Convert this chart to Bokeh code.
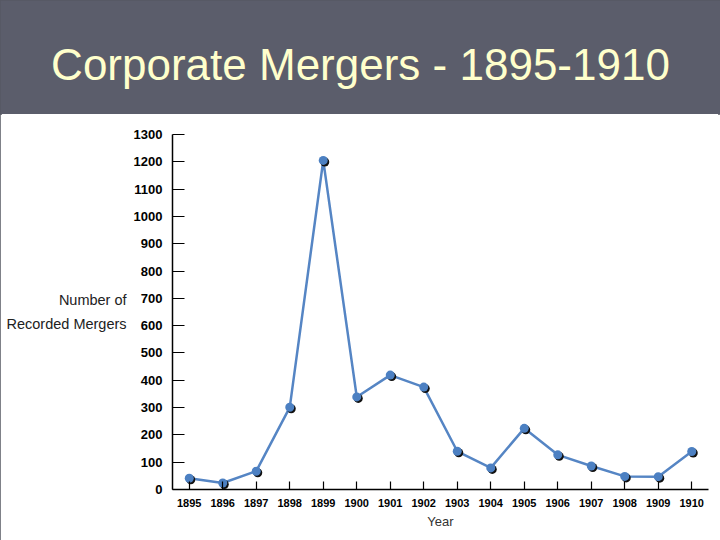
from bokeh.plotting import figure
from bokeh.layouts import column
from bokeh.models import Range1d, FixedTicker, Label, InlineStyleSheet
from bokeh.embed import file_html
from bokeh.resources import INLINE

# ---- data ----
years = [1895, 1896, 1897, 1898, 1899, 1900, 1901, 1902,
         1903, 1904, 1905, 1906, 1907, 1908, 1909, 1910]
mergers = [41, 24, 67, 301, 1205, 339, 419, 375,
           140, 79, 224, 127, 86, 48, 47, 139]
y_ticks = [0, 100, 200, 300, 400, 500, 600, 700, 800, 900, 1000, 1100, 1200, 1300]
title_text = "Corporate Mergers - 1895-1910"
x_axis_title = "Year"
y_axis_title = "Number of\nRecorded Mergers"

FONT = "Liberation Sans"
W = 720
HEAD_H = 114
MAIN_H = 426
HEADER_BG = "#5b5d6b"
BORDER_L, BORDER_R = 172, 12

# ---- header band with the title ----
head = figure(width=W, height=HEAD_H, output_backend="svg", toolbar_location=None,
              x_range=Range1d(0, 1), y_range=Range1d(0, 1),
              x_axis_location=None, y_axis_location=None,
              min_border=0)
head.frame_align = False
head.background_fill_color = HEADER_BG
head.border_fill_color = HEADER_BG
head.outline_line_color = None
head.grid.visible = False
head.add_layout(Label(x=360, y=50, x_units="screen", y_units="screen",
                      text=title_text, text_align="center", text_baseline="alphabetic",
                      text_font=FONT, text_font_size="44px", text_color="#ffffcc"))

# ---- main chart ----
p = figure(width=W, height=MAIN_H, output_backend="svg", toolbar_location=None,
           x_range=Range1d(1894.5, 1910.5), y_range=Range1d(0, 1300),
           min_border_left=BORDER_L, min_border_right=BORDER_R, min_border_top=20,
           min_border_bottom=51)
p.frame_align = False
p.background_fill_color = "white"
p.border_fill_color = "white"
p.outline_line_color = None
p.grid.visible = False

# shadow ranges (shift markers ~1.5px right/down)
p.extra_x_ranges = {"sh": Range1d(1894.5 - 0.045, 1910.5 - 0.045)}
p.extra_y_ranges = {"sh": Range1d(0 + 5.5, 1300 + 5.5)}

xa = p.xaxis[0]
xa.ticker = FixedTicker(ticks=years)
xa.major_tick_in = 8
xa.major_tick_out = 0
xa.minor_tick_line_color = None
xa.axis_line_color = "black"
xa.axis_line_width = 1.5
xa.major_tick_line_color = "black"
xa.major_tick_line_width = 1.2
xa.major_label_text_font = FONT
xa.major_label_text_font_style = "bold"
xa.major_label_text_font_size = "11px"
xa.major_label_text_color = "black"
xa.major_label_standoff = 9
xa.axis_label = x_axis_title
xa.axis_label_text_font = FONT
xa.axis_label_text_font_style = "normal"
xa.axis_label_text_font_size = "13px"
xa.axis_label_text_color = "#333333"
xa.axis_label_standoff = 4

ya = p.yaxis[0]
ya.ticker = FixedTicker(ticks=y_ticks)
ya.major_tick_in = 12
ya.major_tick_out = 0
ya.minor_tick_line_color = None
ya.axis_line_color = "black"
ya.axis_line_width = 1.5
ya.major_tick_line_color = "black"
ya.major_tick_line_width = 1.2
ya.major_label_text_font = FONT
ya.major_label_text_font_style = "bold"
ya.major_label_text_font_size = "13px"
ya.major_label_text_color = "black"
ya.major_label_standoff = 10
ya.axis_label = y_axis_title
ya.axis_label_orientation = "horizontal"
ya.axis_label_text_font = FONT
ya.axis_label_text_font_style = "normal"
ya.axis_label_text_font_size = "14.5px"
ya.axis_label_text_color = "#222222"
ya.axis_label_standoff = 4
ya.axis_label_text_line_height = 1.5

p.line(years, mergers, line_color="#5585c4", line_width=2.5)
p.scatter(years, mergers, size=9, fill_color="#111111", line_color=None,
          x_range_name="sh", y_range_name="sh")
p.scatter(years, mergers, size=9, fill_color="#4c80c2", line_color=None)

layout = column(head, p, spacing=0)
layout.stylesheets = [InlineStyleSheet(
    css=":host { outline: 2px solid #555760; outline-offset: -2px; }")]
open("out.html", "w").write(file_html(layout, INLINE))
